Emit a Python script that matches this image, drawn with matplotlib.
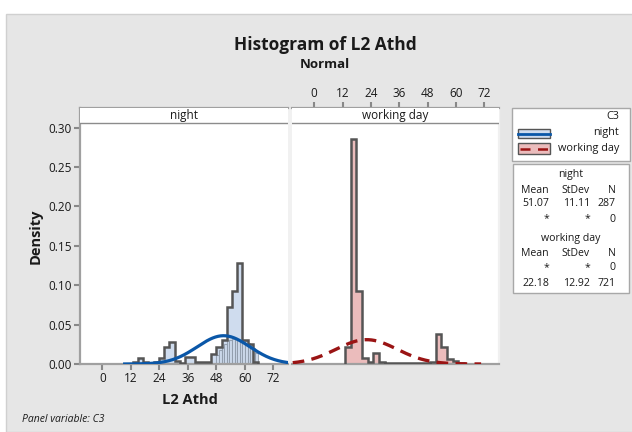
import numpy as np
import matplotlib.pyplot as plt
from matplotlib.patches import Rectangle

plt.rcParams['font.family'] = ['Open Sans', 'DejaVu Sans']

# ---- data ----
night_mean, night_sd, night_n = 51.07, 11.11, 287
work_mean, work_sd, work_n = 22.18, 12.92, 721

night_start, night_width = 12.8, 2.2
night_density = [0.002, 0.007, 0.003, 0.001, 0.003, 0.007, 0.021, 0.0275,
                 0.004, 0.001, 0.009, 0.009, 0.002, 0.002, 0.002, 0.0127,
                 0.022, 0.031, 0.072, 0.093, 0.128, 0.031, 0.026, 0.002]

# finer overlaid bars in the night panel (the striped part)
night_fine_start, night_fine_width = 48.0, 1.1
night_fine = [0.012, 0.018, 0.022, 0.026, 0.030, 0.031, 0.032, 0.032,
              0.031, 0.030, 0.031, 0.029, 0.027, 0.024, 0.020, 0.014]

work_start, work_width = 13.0, 2.4
work_density = [0.022, 0.286, 0.093, 0.007, 0.002, 0.0143, 0.002, 0.001,
                0.001, 0.001, 0.001, 0.001, 0.001, 0.001, 0.001, 0.003,
                0.0377, 0.021, 0.006, 0.004, 0.001]

panels = ['night', 'working day']
xticks = [0, 12, 24, 36, 48, 60, 72]
yticks = [0.00, 0.05, 0.10, 0.15, 0.20, 0.25, 0.30]

W, H = 632, 432
BG = '#e6e6e6'
BLUE_FILL = '#cfdcee'
BLUE = '#0a57a8'
PINK_FILL = '#ebbcbc'
RED = '#9a1414'
EDGE = '#555555'
FRAME = '#a0a0a0'
TXT = '#1a1a1a'


def fx(x):
    return x / W


def fy(y):
    return 1 - y / H


fig = plt.figure(figsize=(W / 100, H / 100), dpi=100, facecolor='white')
fig.patches.append(Rectangle((fx(6), 0), 1, fy(14), transform=fig.transFigure,
                             facecolor=BG, edgecolor='#d0d0d0', lw=1, zorder=-5))

y_top_px, y_bot_px = 108, 364
ymax = (y_bot_px - y_top_px) * 0.05 / 39.4
xlim = (-9.4, 78.2)

axL = fig.add_axes([fx(80), fy(y_bot_px), fx(208), (y_bot_px - y_top_px) / H])
axR = fig.add_axes([fx(292), fy(y_bot_px), fx(207), (y_bot_px - y_top_px) / H])

# gap between panels
fig.patches.append(Rectangle((fx(288), fy(y_bot_px)), fx(4), (y_bot_px - y_top_px) / H,
                             transform=fig.transFigure, facecolor='#f1f1f1',
                             edgecolor='none', zorder=-1))

strip_frac = 1 - (123 - y_top_px) / (y_bot_px - y_top_px)

for ax, name in zip([axL, axR], panels):
    ax.set_xlim(*xlim)
    ax.set_ylim(0, ymax)
    ax.set_facecolor('white')
    ax.add_patch(Rectangle((0, strip_frac), 1, 1 - strip_frac, transform=ax.transAxes,
                           facecolor='white', edgecolor='none', zorder=5))
    ax.axhline(ymax * strip_frac, color='#8c8c8c', lw=1, zorder=6)
    ax.text(0.5, (1 + strip_frac) / 2, name, transform=ax.transAxes, ha='center',
            va='center', fontsize=8.5, color=TXT, zorder=7)
    for s in ax.spines.values():
        s.set_color(FRAME)
        s.set_linewidth(1.6)
    ax.tick_params(colors='#888888', width=1.5, length=4, labelsize=8.5,
                   labelcolor=TXT, pad=2)

# left panel: night
edges_n = night_start + night_width * np.arange(len(night_density) + 1)
axL.bar(edges_n[:-1], night_density, width=night_width, align='edge',
        color=BLUE_FILL, edgecolor='none', zorder=1)
fine_x = night_fine_start + night_fine_width * np.arange(len(night_fine))
axL.bar(fine_x, night_fine, width=night_fine_width, align='edge',
        color=BLUE_FILL, edgecolor='#8d99a8', lw=0.8, alpha=0.85, zorder=2)
axL.stairs(night_density, edges_n, color=EDGE, lw=1.8, baseline=0, zorder=3)
xs = np.linspace(night_mean - 3.75 * night_sd, night_mean + 3.75 * night_sd, 300)
xs = xs[(xs >= xlim[0]) & (xs <= xlim[1])]
axL.plot(xs, np.exp(-0.5 * ((xs - night_mean) / night_sd) ** 2) / (night_sd * np.sqrt(2 * np.pi)),
         color=BLUE, lw=2.3, zorder=4)

# right panel: working day
edges_w = work_start + work_width * np.arange(len(work_density) + 1)
axR.bar(edges_w[:-1], work_density, width=work_width, align='edge',
        color=PINK_FILL, edgecolor='none', zorder=1)
axR.stairs(work_density, edges_w, color=EDGE, lw=1.8, baseline=0, zorder=3)
xs = np.linspace(work_mean - 3.75 * work_sd, work_mean + 3.75 * work_sd, 300)
xs = xs[(xs >= xlim[0]) & (xs <= xlim[1])]
axR.plot(xs, np.exp(-0.5 * ((xs - work_mean) / work_sd) ** 2) / (work_sd * np.sqrt(2 * np.pi)),
         color=RED, lw=2.4, dashes=(3.5, 2.2), zorder=4)

axL.set_xticks(xticks)
axL.set_yticks(yticks)
axL.set_yticklabels([f'{v:.2f}' for v in yticks])
axL.spines['right'].set_visible(False)

axR.set_yticks([])
axR.spines['left'].set_visible(False)
axR.spines['right'].set_color('#f0f0f0')
axR.xaxis.tick_top()
axR.set_xticks(xticks)

# titles and labels
fig.text(fx(325), fy(45), 'Histogram of L2 Athd', ha='center', va='center',
         fontsize=12.5, fontweight='bold', color=TXT)
fig.text(fx(325), fy(64), 'Normal', ha='center', va='center',
         fontsize=9.5, fontweight='bold', color=TXT)
fig.text(fx(190), fy(400), 'L2 Athd', ha='center', va='center',
         fontsize=10.5, fontweight='bold', color=TXT)
fig.text(fx(36), fy(236), 'Density', ha='center', va='center', rotation=90,
         fontsize=10.5, fontweight='bold', color=TXT)
fig.text(fx(22), fy(420), 'Panel variable: C3', ha='left', va='center',
         fontsize=7.5, style='italic', color=TXT)

# legend box
fig.patches.append(Rectangle((fx(512), fy(161)), fx(118), (161 - 108) / H,
                             transform=fig.transFigure, facecolor='white',
                             edgecolor='#a8a8a8', lw=1))
fig.text(fx(619), fy(117), 'C3', ha='right', va='center', fontsize=7.8, color=TXT)
fig.text(fx(619), fy(133), panels[0], ha='right', va='center', fontsize=7.8, color=TXT)
fig.text(fx(619), fy(149), panels[1], ha='right', va='center', fontsize=7.8, color=TXT)
fig.patches.append(Rectangle((fx(518), fy(138)), fx(32), 9 / H, transform=fig.transFigure,
                             facecolor=BLUE_FILL, edgecolor=EDGE, lw=1))
fig.lines.append(plt.Line2D([fx(518), fx(550)], [fy(133.5), fy(133.5)],
                            transform=fig.transFigure, color=BLUE, lw=2))
fig.patches.append(Rectangle((fx(518), fy(154)), fx(32), 11 / H, transform=fig.transFigure,
                             facecolor=PINK_FILL, edgecolor=EDGE, lw=1))
fig.lines.append(plt.Line2D([fx(520), fx(549)], [fy(148.5), fy(148.5)],
                            transform=fig.transFigure, color=RED, lw=1.8, dashes=(4, 3)))

# statistics box
fig.patches.append(Rectangle((fx(513), fy(293)), fx(116), (293 - 164) / H,
                             transform=fig.transFigure, facecolor='white',
                             edgecolor='#a8a8a8', lw=1))
rows = [
    (174, [(571, 'night', 'center')]),
    (190, [(549, 'Mean', 'right'), (590, 'StDev', 'right'), (616, 'N', 'right')]),
    (204, [(549, f'{night_mean:.2f}', 'right'), (590, f'{night_sd:.2f}', 'right'),
           (616, str(night_n), 'right')]),
    (219, [(549, '*', 'right'), (590, '*', 'right'), (616, '0', 'right')]),
    (238, [(571, 'working day', 'center')]),
    (253, [(549, 'Mean', 'right'), (590, 'StDev', 'right'), (616, 'N', 'right')]),
    (268, [(549, '*', 'right'), (590, '*', 'right'), (616, '0', 'right')]),
    (284, [(549, f'{work_mean:.2f}', 'right'), (590, f'{work_sd:.2f}', 'right'),
           (616, str(work_n), 'right')]),
]
for y, cells in rows:
    for x, s, ha in cells:
        fig.text(fx(x), fy(y), s, ha=ha, va='center', fontsize=7.6, color=TXT)

fig.savefig('out.png', dpi=100, facecolor='white')
